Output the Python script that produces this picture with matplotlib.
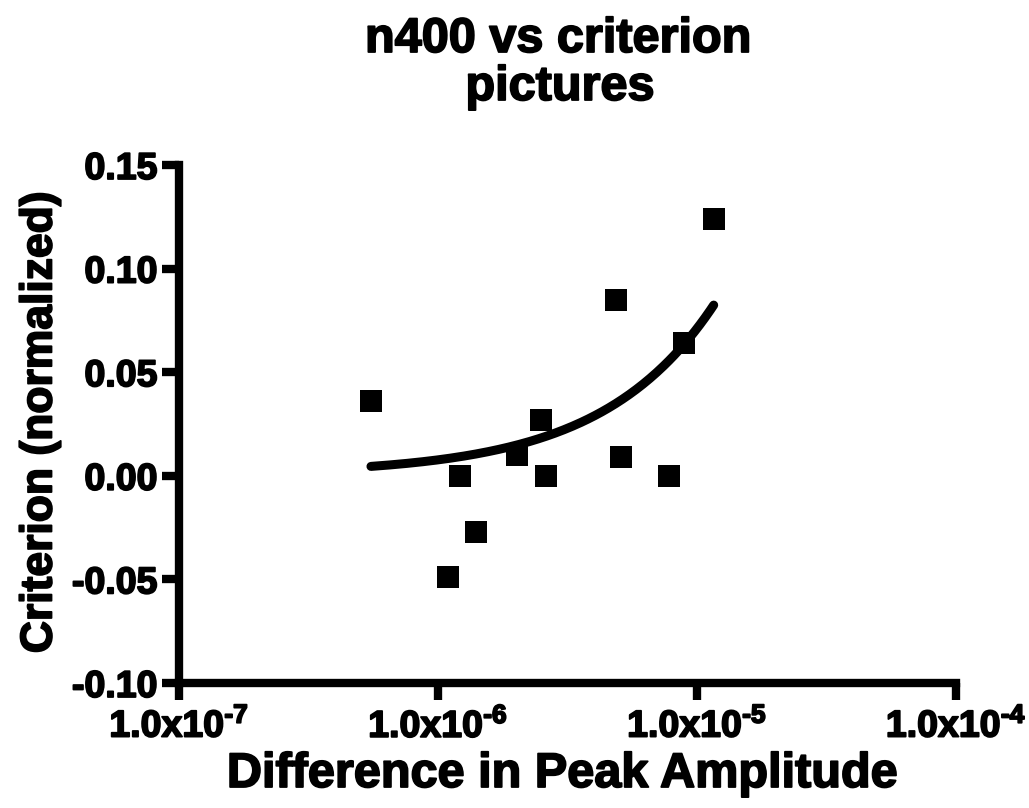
import numpy as np
import matplotlib
matplotlib.use("Agg")
import matplotlib.pyplot as plt
import matplotlib.patheffects as pe
from matplotlib.ticker import FixedLocator, FixedFormatter

plt.rcParams['font.family'] = ['Liberation Sans', 'DejaVu Sans']
plt.rcParams['font.weight'] = 'bold'
plt.rcParams['mathtext.fontset'] = 'custom'
plt.rcParams['mathtext.rm'] = 'Liberation Sans:bold'
plt.rcParams['mathtext.bf'] = 'Liberation Sans:bold'
plt.rcParams['mathtext.it'] = 'Liberation Sans:bold'
plt.rcParams['mathtext.default'] = 'rm'

# ---- data ----
peak_amp_diff = [5.51e-7, 1.096e-6, 1.216e-6, 1.402e-6, 2.013e-6, 2.492e-6,
                 2.605e-6, 4.855e-6, 5.075e-6, 7.816e-6, 8.911e-6, 1.160e-5]
criterion = [0.036, -0.049, 0.000, -0.027, 0.010, 0.027,
             0.000, 0.085, 0.009, 0.000, 0.064, 0.124]
# linear fit shown on the chart (y = intercept + slope * x)
fit_intercept = 0.00065
fit_slope = 7046.0

x_ticks = [1e-7, 1e-6, 1e-5, 1e-4]
x_tick_labels = ['$1.0x10^{\u20107}$', '$1.0x10^{\u20106}$',
                 '$1.0x10^{\u20105}$', '$1.0x10^{\u20104}$']
y_ticks = [-0.10, -0.05, 0.00, 0.05, 0.10, 0.15]
y_tick_labels = ['-0.10', '-0.05', '0.00', '0.05', '0.10', '0.15']

title_lines = ["n400 vs criterion", "pictures"]
x_label = "Difference in Peak Amplitude"
y_label = "Criterion (normalized)"

heavy = [pe.withStroke(linewidth=1.3, foreground='black')]

W, H = 1029, 808
fig = plt.figure(figsize=(W / 100, H / 100), dpi=100)
ax = fig.add_axes([179 / W, 1 - 683 / H, (956 - 179) / W, (683 - 165) / H])

ax.set_xscale('log')
ax.set_xlim(1e-7, 1e-4)
ax.set_ylim(-0.10, 0.15)

ax.plot(peak_amp_diff, criterion, linestyle='none', marker='s',
        markersize=16.5, color='black', markeredgewidth=0, zorder=3)

xf = np.logspace(np.log10(min(peak_amp_diff)), np.log10(max(peak_amp_diff)), 200)
ax.plot(xf, fit_intercept + fit_slope * xf, color='black', linewidth=6.5,
        solid_capstyle='round', zorder=4)

ax.xaxis.set_major_locator(FixedLocator(x_ticks))
ax.xaxis.set_major_formatter(FixedFormatter(x_tick_labels))
ax.xaxis.set_minor_locator(FixedLocator([]))
ax.yaxis.set_major_locator(FixedLocator(y_ticks))
ax.yaxis.set_major_formatter(FixedFormatter(y_tick_labels))

for s in ['top', 'right']:
    ax.spines[s].set_visible(False)
for s in ['left', 'bottom']:
    ax.spines[s].set_linewidth(6)
    ax.spines[s].set_capstyle('projecting')

ax.tick_params(axis='both', which='major', direction='out', length=12.5,
               width=6, color='black')
ax.tick_params(axis='y', labelsize=27, pad=3)
ax.tick_params(axis='x', labelsize=27, pad=5)
for lab in ax.get_yticklabels() + ax.get_xticklabels():
    lab.set_fontweight('bold')
    lab.set_path_effects(heavy)

fig.text(558 / W, 1 - 52 / H, title_lines[0], ha='center', va='baseline',
         fontsize=35, fontweight='bold', path_effects=heavy)
fig.text(560 / W, 1 - 100 / H, title_lines[1], ha='center', va='baseline',
         fontsize=35, fontweight='bold', path_effects=heavy)
fig.text(562 / W, 1 - 787 / H, x_label, ha='center', va='baseline',
         fontsize=35, fontweight='bold', path_effects=heavy)
fig.text(40 / W, 1 - 422 / H, y_label, ha='center', va='center',
         rotation=90, fontsize=32, fontweight='bold', path_effects=heavy)

fig.savefig('out.png', dpi=100, facecolor='white')
